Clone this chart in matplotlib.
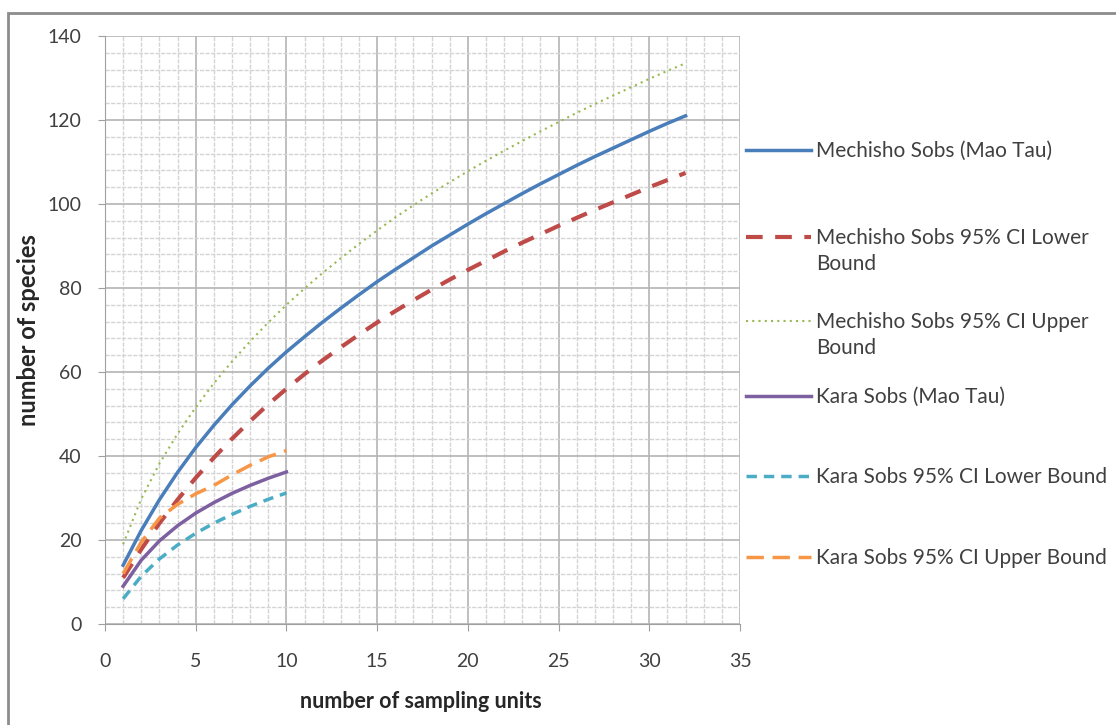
import matplotlib.pyplot as plt
from matplotlib.patches import Rectangle
from matplotlib.ticker import MultipleLocator

plt.rcParams['font.family'] = ['Lato', 'DejaVu Sans']

# sampling units
x_mech = list(range(1, 33))
x_kara = list(range(1, 11))

mech_sobs = [14, 22.3, 29.6, 36.1, 42.0, 47.3, 52.2, 56.7, 60.9, 64.8,
             68.4, 71.9, 75.2, 78.4, 81.5, 84.4, 87.2, 90.0, 92.6, 95.2,
             97.7, 100.1, 102.5, 104.8, 107.0, 109.2, 111.3, 113.3, 115.3, 117.3,
             119.2, 121.0]
mech_low = [11, 17.8, 24.0, 29.6, 34.8, 39.6, 44.1, 48.3, 52.3, 56.0,
            59.5, 62.8, 65.9, 68.9, 71.8, 74.5, 77.1, 79.6, 82.0, 84.3,
            86.5, 88.7, 90.8, 92.8, 94.8, 96.7, 98.6, 100.4, 102.2, 104.0,
            105.7, 107.4]
mech_up = [19, 29.8, 38.2, 45.3, 51.6, 57.3, 62.5, 67.3, 71.8, 76.0,
           79.9, 83.6, 87.1, 90.5, 93.7, 96.8, 99.7, 102.5, 105.2, 107.8,
           110.3, 112.7, 115.0, 117.3, 119.5, 121.7, 123.8, 125.8, 127.8, 129.8,
           131.7, 133.5]

kara_sobs = [9, 15.2, 19.8, 23.4, 26.4, 28.9, 31.1, 33.0, 34.7, 36.2]
kara_low = [6, 11.4, 15.5, 18.8, 21.6, 24.0, 26.1, 28.0, 29.7, 31.2]
kara_up = [12, 19.5, 25.2, 28.5, 31.0, 33.0, 35.5, 37.8, 39.8, 41.3]

labels = ['Mechisho Sobs (Mao Tau)',
          'Mechisho Sobs 95% CI Lower',
          'Mechisho Sobs 95% CI Upper',
          'Kara Sobs (Mao Tau)',
          'Kara Sobs 95% CI Lower Bound',
          'Kara Sobs 95% CI Upper Bound']
wrapped = ['', 'Bound', 'Bound', '', '', '']

fig = plt.figure(figsize=(11.16, 7.25), dpi=100)
ax = fig.add_axes([105/1116, 1-624/725, (740-105)/1116, (624-36)/725])

# outer frame of the chart
fig.patches.append(Rectangle((8/1116, -0.1), 1.2, 1-13/725+0.1, transform=fig.transFigure,
                             fill=False, edgecolor='#8c8c8c', linewidth=2))

kw = dict(solid_joinstyle='round', dash_joinstyle='round')
lines = []
lines += ax.plot(x_mech, mech_sobs, color='#4a7ebb', lw=2.5, **kw)
lines += ax.plot(x_mech, mech_low, color='#be4b48', lw=3, dashes=(4, 3), **kw)
lines += ax.plot(x_mech, mech_up, color='#98b954', lw=1.5, linestyle=(0, (1, 2)), **kw)
lines += ax.plot(x_kara, kara_sobs, color='#7d60a0', lw=2.5, **kw)
lines += ax.plot(x_kara, kara_low, color='#4bacc6', lw=2.5, dashes=(3, 2), **kw)
lines += ax.plot(x_kara, kara_up, color='#f79646', lw=2.5, dashes=(5, 2.5), **kw)

ax.set_xlim(0, 35)
ax.set_ylim(0, 140)
ax.xaxis.set_major_locator(MultipleLocator(5))
ax.xaxis.set_minor_locator(MultipleLocator(1))
ax.yaxis.set_major_locator(MultipleLocator(20))
ax.yaxis.set_minor_locator(MultipleLocator(4))
ax.grid(which='major', color='#b4b4b4', lw=1.2)
ax.grid(which='minor', color='#d4d4d4', lw=1, linestyle=(0, (3, 1)))
ax.set_axisbelow(True)

for s in ['top', 'right']:
    ax.spines[s].set_visible(False)
for s in ['left', 'bottom']:
    ax.spines[s].set_color('#a0a0a0')
ax.tick_params(which='major', length=5, color='#a0a0a0', labelsize=14, labelcolor='#404040')
ax.tick_params(which='minor', length=0)
ax.tick_params(axis='x', pad=16)
ax.tick_params(axis='y', pad=12)

ax.set_xlabel('number of sampling units', fontsize=15.5, fontweight='bold', color='#262626')
ax.set_ylabel('number of species', fontsize=17, fontweight='bold', color='#262626')
ax.xaxis.set_label_coords(0.498, -0.114)
ax.yaxis.set_label_coords(-0.102, 0.5)

# legend: one entry per row, Excel style (handle on first text line)
row_y = [151, 238, 322, 397, 477, 558]
for ln, lab, extra, y in zip(lines, labels, wrapped, row_y):
    fig.legend([ln], [lab], loc='center left', bbox_to_anchor=(746/1116, 1-y/725),
               frameon=False, fontsize=15, handlelength=3.1, handletextpad=0.25,
               borderpad=0, borderaxespad=0, labelcolor='#404040')
    if extra:
        fig.text(816/1116, 1-(y+26)/725, extra, fontsize=15, color='#404040', va='center')

fig.savefig('out.png', dpi=100)
